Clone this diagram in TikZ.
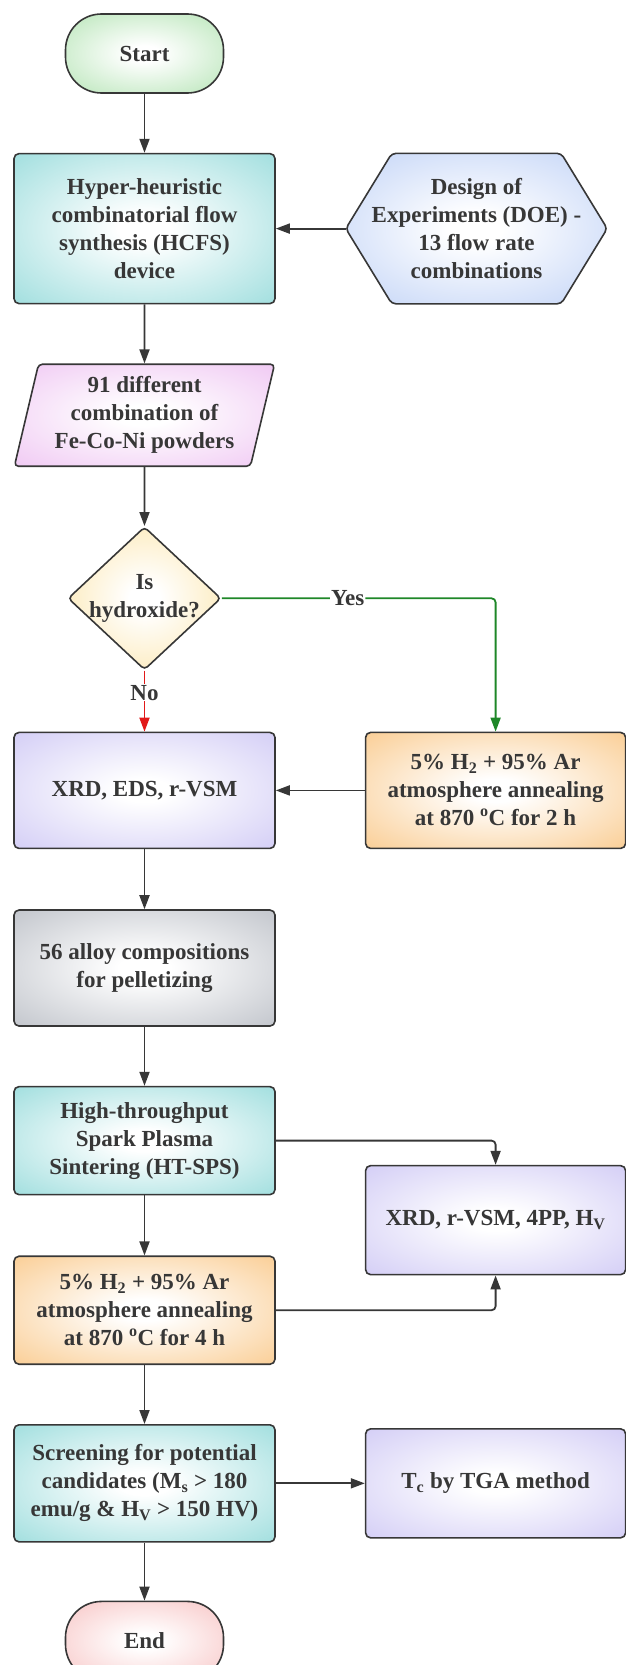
\documentclass[tikz,border=0pt]{standalone}
\usepackage{fontspec}
\setmainfont{Liberation Serif}
\usepackage{tikz}
\usetikzlibrary{shapes,arrows.meta,positioning,backgrounds}
\definecolor{ink}{RGB}{55,55,55}
\definecolor{startgreen}{RGB}{170,224,170}
\definecolor{hcfsteal}{RGB}{142,216,216}
\definecolor{doeblue}{RGB}{182,203,245}
\definecolor{powderpink}{RGB}{237,190,241}
\definecolor{askyellow}{RGB}{251,223,150}
\definecolor{charlav}{RGB}{203,196,244}
\definecolor{annealorange}{RGB}{249,196,128}
\definecolor{pelletgrey}{RGB}{182,186,194}
\definecolor{endpink}{RGB}{246,186,186}
\definecolor{yesgreen}{RGB}{30,135,40}
\definecolor{nored}{RGB}{225,25,25}
\newcommand{\boxfont}{\bfseries\fontsize{23}{28}\selectfont}
\newcommand{\glow}[2]{\pgfdeclareradialshading{#1}{\pgfpoint{0bp}{0bp}}{color(0bp)=(white); color(5bp)=(white); color(42bp)=(#2); color(72bp)=(#2)}}
\glow{startglow}{startgreen}
\glow{tealglow}{hcfsteal}
\glow{blueglow}{doeblue}
\glow{pinkglow}{powderpink}
\glow{yellowglow}{askyellow}
\glow{lavglow}{charlav}
\glow{orangeglow}{annealorange}
\glow{greyglow}{pelletgrey}
\glow{endglow}{endpink}
\tikzstyle{terminal} = [rectangle, rounded corners=36pt, draw=ink, line width=1.6pt, text=ink, align=center, font=\boxfont, minimum width=158pt, minimum height=79pt]
\tikzstyle{process} = [rectangle, rounded corners=5pt, draw=ink, line width=1.6pt, text=ink, align=center, font=\boxfont, minimum width=261pt, minimum height=116pt]
\tikzstyle{data} = [trapezium, trapezium left angle=76, trapezium right angle=104, trapezium stretches=true, rounded corners=4pt, draw=ink, line width=1.6pt, text=ink, align=center, font=\boxfont, inner xsep=2pt, minimum width=261pt, minimum height=102pt]
\tikzstyle{decision} = [diamond, rounded corners=4pt, draw=ink, line width=1.6pt, text=ink, align=center, font=\boxfont, inner xsep=-20pt, inner ysep=-6pt, minimum width=153pt, minimum height=143pt]
\tikzstyle{preptext} = [rectangle, text=ink, align=center, font=\boxfont, minimum width=261pt, minimum height=150pt]
\tikzstyle{prepshape} = [draw=ink, line width=1.6pt, rounded corners=4pt, shading=blueglow]
\tikzstyle{edgetext} = [fill=white, text=ink, font=\boxfont, inner sep=1pt]
\tikzstyle{tedge}  = [draw=ink, line width=1.8pt, -{Triangle[length=14pt,width=10pt]}]
\tikzstyle{yesedge}  = [draw=yesgreen, line width=1.8pt, rounded corners=4pt, -{Triangle[length=14pt,width=10pt]}]
\tikzstyle{noedge}  = [draw=nored, line width=1.8pt, -{Triangle[length=14pt,width=10pt]}]

\begin{document}
\begin{tikzpicture}
\useasboundingbox (0,0) rectangle (626pt,-1665pt);

% main column =============================

\node[terminal, shading=startglow] (start) at (144.5pt,-53.5pt) {Start};
\node[process, shading=tealglow, minimum height=150pt, below=59pt of start] (hcfs) {Hyper-heuristic\\ combinatorial flow\\ synthesis (HCFS)\\ device};
\node[data, shading=pinkglow, below=59pt of hcfs] (powders) {91 different\\ combination of\\ Fe-Co-Ni powders};
\node[decision, shading=yellowglow, below=59pt of powders] (hydrox) {Is\\ hydroxide?};
\node[process, shading=lavglow, below=61pt of hydrox] (xrdeds) {XRD, EDS, r-VSM};
\node[process, shading=greyglow, below=60pt of xrdeds] (pellet) {56 alloy compositions\\ for pelletizing};
\node[process, shading=tealglow, minimum height=108pt, below=59pt of pellet] (htsps) {High-throughput\\ Spark Plasma\\ Sintering (HT-SPS)};
\node[process, shading=orangeglow, minimum height=108pt, below=60pt of htsps] (anneal4) {5\% H\textsubscript{2} + 95\% Ar\\ atmosphere annealing\\ at 870 \textsuperscript{o}C for 4 h};
\node[process, shading=tealglow, minimum height=117pt, below=59pt of anneal4] (screen) {Screening for potential\\ candidates (M\textsubscript{s} > 180\\ emu/g \& H\textsubscript{V} > 150 HV)};
\node[terminal, shading=endglow, below=58pt of screen] (end) {End};

% side column
\node[preptext, right=70pt of hcfs] (doe) {Design of\\ Experiments (DOE) -\\ 13 flow rate\\ combinations};
\begin{scope}[on background layer]
\path[prepshape] (doe.west) -- ([xshift=46pt]doe.north west) -- ([xshift=-46pt]doe.north east) -- (doe.east)
  -- ([xshift=-46pt]doe.south east) -- ([xshift=46pt]doe.south west) -- cycle;
\end{scope}
\node[process, shading=orangeglow, minimum width=260pt, right=89pt of xrdeds] (anneal2) {5\% H\textsubscript{2} + 95\% Ar\\ atmosphere annealing\\ at 870 \textsuperscript{o}C for 2 h};
\node[process, shading=lavglow, minimum width=260pt, minimum height=109pt, right=89pt of htsps, yshift=-79.5pt] (xrdvsm) {XRD, r-VSM, 4PP, H\textsubscript{V}};
\node[process, shading=lavglow, minimum width=260pt, minimum height=109pt, right=89pt of screen] (tcga) {T\textsubscript{c} by TGA method};

% edges
\path[tedge] (start) -- (hcfs);
\path[tedge] (doe) -- (hcfs);
\path[tedge] (hcfs) -- (powders);
\path[tedge] (powders) -- (hydrox);
\path[yesedge] (hydrox.east) -| node[edgetext, pos=0.23] {Yes} (anneal2.north);
\path[noedge] (hydrox) -- node[edgetext, pos=0.36] {No} (xrdeds);
\path[tedge] (anneal2) -- (xrdeds);
\path[tedge] (xrdeds) -- (pellet);
\path[tedge] (pellet) -- (htsps);
\path[tedge, rounded corners=4pt] (htsps.east) -| (xrdvsm.north);
\path[tedge] (htsps) -- (anneal4);
\path[tedge, rounded corners=4pt] (anneal4.east) -| (xrdvsm.south);
\path[tedge] (anneal4) -- (screen);
\path[tedge] (screen) -- (tcga);
\path[tedge] (screen) -- (end);

\end{tikzpicture}
\end{document}
